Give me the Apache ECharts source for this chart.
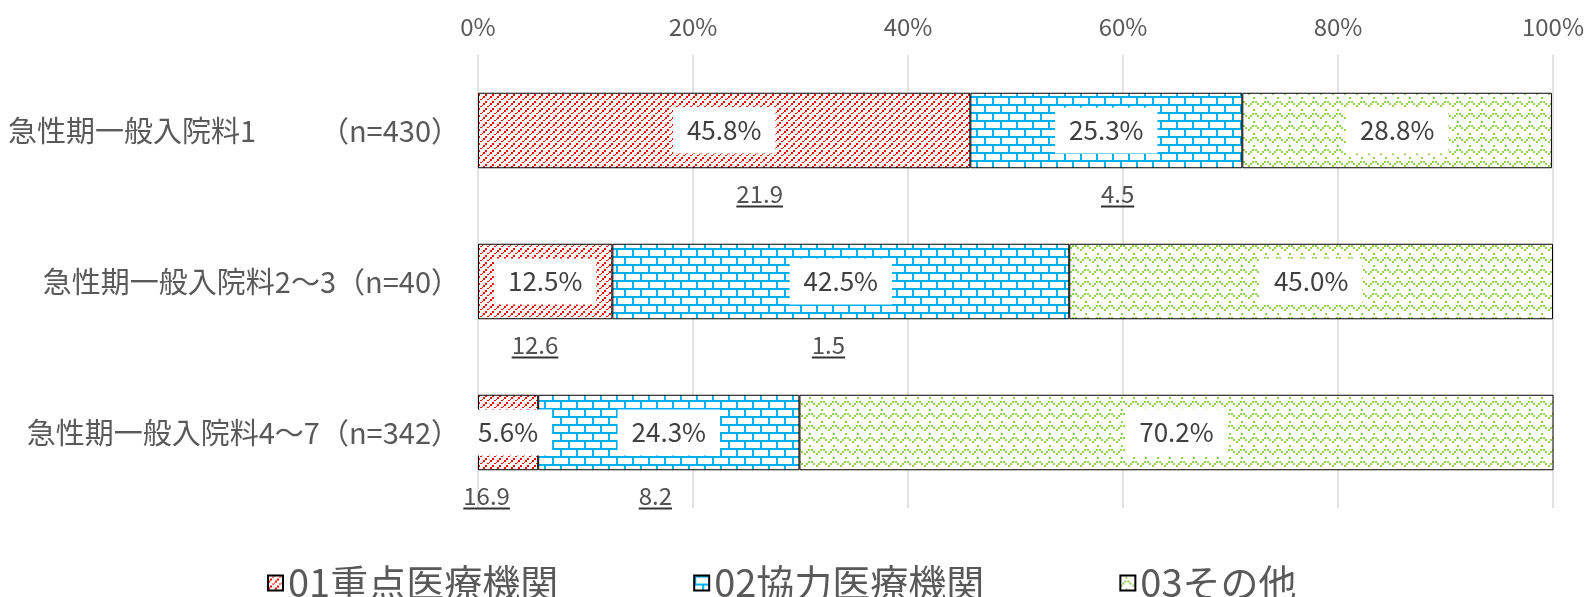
<!DOCTYPE html>
<html>
<head>
<meta charset="utf-8">
<script src="https://cdn.jsdelivr.net/npm/echarts@6/dist/echarts.min.js"></script>
<style>
  html, body { margin: 0; padding: 0; background: #fff; }
  #main { width: 1595px; height: 597px; }
</style>
</head>
<body>
<div id="main"></div>
<script>
const categories = ['急性期一般入院料1　　\u2009（n=430）', '急性期一般入院料2～3（n=40）', '急性期一般入院料4～7（n=342）'];
const seriesNames = ['01重点医療機関', '02協力医療機関', '03その他'];
const keyValues = [45.8, 12.5, 5.6];
const coopValues = [25.3, 42.5, 24.3];
const otherValues = [28.8, 45.0, 70.2];
// underlined figures under each bar, and where they sit on the % axis
const noteRedValues = [21.9, 12.6, 16.9];
const noteRedPos = [26.2, 5.3, 0.8];
const noteBlueValues = [4.5, 1.5, 8.2];
const noteBluePos = [59.5, 32.6, 16.5];

const FONT = 'Noto Sans CJK JP';

// small canvas tiles for the hatch fills
function makeTile(w, h, draw) {
  const c = document.createElement('canvas');
  c.width = w;
  c.height = h;
  const ctx = c.getContext('2d');
  ctx.fillStyle = '#fff';
  ctx.fillRect(0, 0, w, h);
  draw(ctx);
  return { image: c, repeat: 'repeat' };
}

const redFill = makeTile(7, 7, ctx => {
  ctx.fillStyle = '#ff0000';
  ctx.fillRect(0, 5, 2, 2);
  ctx.fillRect(2, 3, 2, 2);
  ctx.fillRect(4, 1, 2, 1);
  ctx.fillRect(6, 0, 1, 1);
});

const blueFill = makeTile(16, 16, ctx => {
  ctx.fillStyle = '#00b0f0';
  ctx.fillRect(0, 0, 16, 2);
  ctx.fillRect(0, 8, 16, 2);
  ctx.fillRect(0, 0, 2, 8);
  ctx.fillRect(8, 8, 2, 8);
});

const greenFill = makeTile(12, 12, ctx => {
  ctx.fillStyle = '#92d050';
  ctx.fillRect(0, 9, 2, 2);
  ctx.fillRect(2, 7, 2, 2);
  ctx.fillRect(4, 5, 2, 2);
  ctx.fillRect(7, 5, 2, 2);
  ctx.fillRect(9, 7, 2, 2);
  ctx.fillRect(5, 1, 2, 2);
});

const measureCtx = document.createElement('canvas').getContext('2d');
function textWidth(str, size) {
  measureCtx.font = size + 'px "' + FONT + '"';
  return measureCtx.measureText(str).width;
}

const barLabel = {
  show: true,
  position: 'inside',
  formatter: p => p.value.toFixed(1) + '%',
  backgroundColor: '#fff',
  padding: [10, 14],
  color: '#404040',
  fontSize: 26,
  fontFamily: FONT
};

function barSeries(name, data, fill) {
  return {
    name: name,
    type: 'bar',
    stack: 'total',
    data: data,
    barWidth: '50%',
    itemStyle: { color: fill, borderColor: '#000', borderWidth: 1 },
    label: barLabel,
    emphasis: { disabled: true }
  };
}

function noteSeries(values, pos) {
  return {
    type: 'scatter',
    silent: true,
    z: 5,
    symbol: 'rect',
    symbolOffset: [0, 76],
    itemStyle: { color: '#000' },
    data: values.map((v, i) => ({
      value: [pos[i], i],
      note: v.toFixed(1),
      symbolSize: [textWidth(v.toFixed(1), 24), 2]
    })),
    label: {
      show: true,
      position: 'top',
      distance: 0,
      formatter: p => p.data.note,
      color: '#262626',
      fontSize: 24,
      fontFamily: FONT
    }
  };
}

const chart = echarts.init(document.getElementById('main'));

const option = {
  animation: false,
  textStyle: { fontFamily: FONT },
  grid: { left: 478, right: 42, top: 55, bottom: 89, outerBoundsMode: 'none', containLabel: false },
  xAxis: {
    type: 'value',
    position: 'top',
    min: 0,
    max: 100,
    interval: 20,
    axisLine: { show: false },
    axisTick: { show: false },
    axisLabel: { formatter: '{value}%', color: '#595959', fontSize: 24, margin: 16, fontFamily: FONT },
    splitLine: { lineStyle: { color: '#d9d9d9', width: 1.5 } }
  },
  yAxis: {
    type: 'category',
    data: categories,
    inverse: true,
    axisLine: { show: false },
    axisTick: { show: false },
    axisLabel: { color: '#595959', fontSize: 29, margin: 18, fontFamily: FONT }
  },
  legend: {
    data: seriesNames,
    left: 262,
    top: 559,
    icon: 'rect',
    itemWidth: 15,
    itemHeight: 15,
    itemGap: 135,
    textStyle: { color: '#595959', fontSize: 38, fontFamily: FONT }
  },
  series: [
    barSeries(seriesNames[0], keyValues, redFill),
    barSeries(seriesNames[1], coopValues, blueFill),
    barSeries(seriesNames[2], otherValues, greenFill),
    noteSeries(noteRedValues, noteRedPos),
    noteSeries(noteBlueValues, noteBluePos)
  ]
};

option && chart.setOption(option);
</script>
</body>
</html>
